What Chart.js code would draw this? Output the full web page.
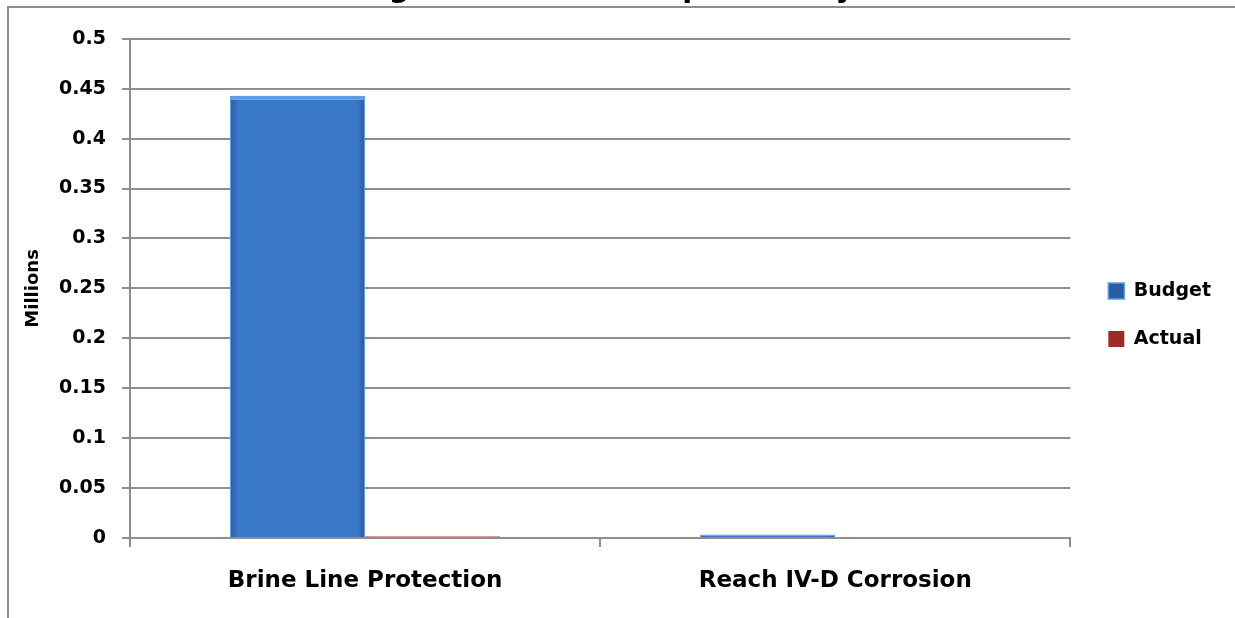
<!DOCTYPE html>
<html>
<head>
<meta charset="utf-8">
<script src="https://cdn.jsdelivr.net/npm/chart.js@4.4.1/dist/chart.umd.min.js"></script>
<style>
  html, body { margin: 0; padding: 0; background: #fff; overflow: hidden; width: 1235px; height: 618px; }
  #wrap { position: absolute; left: 0; top: -50px; width: 1235px; height: 668px; }
</style>
</head>
<body>
<div id="wrap"><canvas id="c" width="1235" height="668"></canvas></div>
<script>
// Chart content
const chartTitle = 'Budget to Actual Comparison by Fund';
const categories = ['Brine Line Protection', 'Reach IV-D Corrosion'];
const budget = [0.443, 0.0035];   // millions
const actual = [0.0015, 0];       // millions
const yTickLabels = ['0', '0.05', '0.1', '0.15', '0.2', '0.25', '0.3', '0.35', '0.4', '0.45', '0.5'];
const yAxisTitle = 'Millions';
const seriesNames = ['Budget', 'Actual'];

const FONT = '"DejaVu Sans", sans-serif';
const GRID = '#8e8e8e';

// Bevelled bar fill: darker edges, brighter body, built from the scales
function bevelFill(edge, body, solid) {
  return (ctx) => {
    if (ctx.type !== 'data') return solid;
    const chart = ctx.chart;
    const xs = chart.scales.x;
    if (!xs || !chart.chartArea) return solid;
    const catW = xs.width / categories.length;
    const barW = catW * 0.5745 / 2;
    const center = xs.getPixelForValue(ctx.dataIndex);
    const left = ctx.datasetIndex === 0 ? center - barW : center;
    const g = chart.ctx.createLinearGradient(left, 0, left + barW, 0);
    g.addColorStop(0, edge);
    g.addColorStop(0.06, body);
    g.addColorStop(0.94, body);
    g.addColorStop(1, edge);
    return g;
  };
}

// Outer chart frame and white page
const framePlugin = {
  id: 'frame',
  beforeDraw(chart) {
    const c = chart.ctx;
    c.save();
    c.fillStyle = '#fff';
    c.fillRect(0, 0, chart.width, chart.height);
    c.strokeStyle = GRID;
    c.lineWidth = 2;
    c.beginPath();
    c.moveTo(8, chart.height + 10);
    c.lineTo(8, 57);
    c.lineTo(chart.width + 10, 57);
    c.stroke();
    c.restore();
  }
};

new Chart(document.getElementById('c'), {
  type: 'bar',
  data: {
    labels: categories,
    datasets: [
      {
        label: seriesNames[0],
        data: budget,
        backgroundColor: bevelFill('#2a5c9f', '#3a78c8', '#3b72bd'),
        borderColor: '#5f9de2',
        borderWidth: { top: 4, left: 1, right: 1, bottom: 0 },
        borderSkipped: 'start',
        categoryPercentage: 0.5745,
        barPercentage: 1.0
      },
      {
        label: seriesNames[1],
        data: actual,
        backgroundColor: bevelFill('#9c2c2c', '#c0403f', '#c0403f'),
        borderColor: '#d66a68',
        borderWidth: 0,
        categoryPercentage: 0.5745,
        barPercentage: 1.0
      }
    ]
  },
  options: {
    responsive: false,
    animation: false,
    devicePixelRatio: 1,
    layout: { padding: { left: 49, right: 14, top: 0, bottom: 0 } },
    plugins: {
      title: {
        display: true,
        text: chartTitle,
        color: '#000',
        font: { family: FONT, size: 29, weight: 'bold' },
        padding: { top: 22, bottom: 32 }
      },
      legend: {
        position: 'right',
        title: { display: true, text: '', font: { family: FONT, size: 12 }, padding: { top: 47.6, bottom: 0 } },
        labels: {
          color: '#000',
          font: { family: FONT, size: 19, weight: 'bold' },
          boxWidth: 16,
          boxHeight: 16,
          padding: 29
        }
      },
      tooltip: { enabled: false }
    },
    scales: {
      x: {
        grid: { display: true, drawOnChartArea: false, tickLength: 9, color: GRID, lineWidth: 2, offset: true },
        border: { color: GRID, width: 2 },
        ticks: { color: '#000', font: { family: FONT, size: 23, weight: 'bold' }, padding: 20 },
        afterFit: (s) => { s.height = 80; }
      },
      y: {
        min: 0,
        max: 0.5,
        ticks: {
          stepSize: 0.05,
          color: '#000',
          font: { family: FONT, size: 19, weight: 'bold' },
          padding: 16,
          callback: (v, i) => yTickLabels[i]
        },
        grid: { color: GRID, lineWidth: 2, tickLength: 8 },
        border: { color: GRID, width: 2 },
        title: {
          display: true,
          text: yAxisTitle,
          color: '#000',
          font: { family: FONT, size: 18, weight: 'bold' },
          padding: { top: -26, bottom: 0 }
        },
        afterFit: (s) => { s.width = 81; }
      },
      gap: {
        position: 'right',
        display: true,
        grid: { display: false },
        border: { display: false },
        ticks: { display: false },
        afterFit: (s) => { s.width = 9; }
      }
    }
  },
  plugins: [framePlugin]
});
</script>
</body>
</html>
